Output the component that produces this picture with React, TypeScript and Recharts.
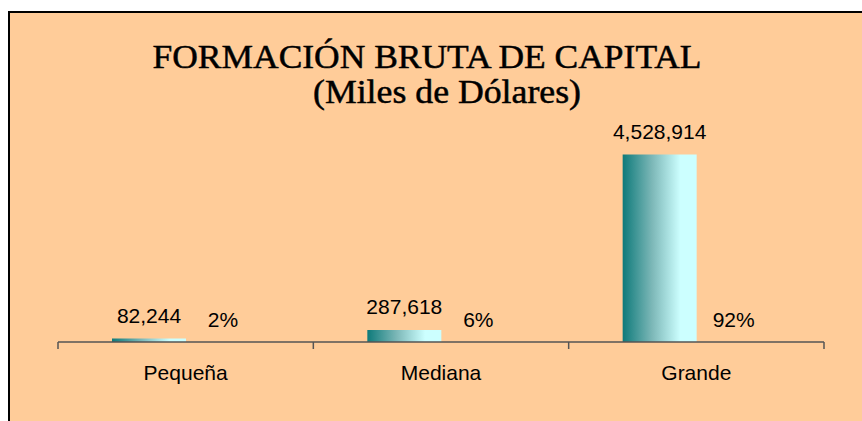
import React from 'react';
import { BarChart, Bar, XAxis, YAxis, LabelList } from 'recharts';

// values
const categories = ['Pequeña', 'Mediana', 'Grande'];
const amounts = [82244, 287618, 4528914];
const shares = [2, 6, 92];

const data = categories.map((name, i) => ({ name, amount: amounts[i], share: shares[i] }));

const CHART_W = 852;
const CHART_H = 408;
const MARGIN = { top: 122, right: 38, bottom: 29, left: 48 };
const PLOT_W = CHART_W - MARGIN.left - MARGIN.right;
const BAND = PLOT_W / categories.length;
const TICK_SIZE = 7;
const TICK_MARGIN = 16;

const sans = '"Liberation Sans", Arial, sans-serif';
const serif = '"Liberation Serif", "Times New Roman", serif';
const axisColor = '#555555';

// category label plus the boundary ticks Excel draws between categories
function CategoryTick(props: any) {
  const { x, y, payload, index } = props;
  const lineTop = y - TICK_MARGIN - TICK_SIZE;
  const lineBottom = y - TICK_MARGIN;
  const left = x - BAND / 2;
  const right = x + BAND / 2;
  return (
    <g>
      <line x1={left} x2={left} y1={lineTop} y2={lineBottom} stroke={axisColor} strokeWidth={1.5} />
      {index === categories.length - 1 && (
        <line x1={right} x2={right} y1={lineTop} y2={lineBottom} stroke={axisColor} strokeWidth={1.5} />
      )}
      <text x={x} y={y} dy="0.71em" textAnchor="middle" fill="#000" fontFamily={sans} fontSize={21}>
        {payload.value}
      </text>
    </g>
  );
}

export default function App() {
  return (
    <div
      style={{
        position: 'fixed',
        left: 8,
        top: 11,
        width: 854,
        height: 410,
        boxSizing: 'border-box',
        background: '#FFCC99',
        borderTop: '2px solid #000',
        borderLeft: '2px solid #000',
      }}
    >
      <BarChart width={CHART_W} height={CHART_H} data={data} margin={MARGIN} barGap={0} barCategoryGap={54}>
        <defs>
          <linearGradient id="tealFill" x1="0" y1="0" x2="1" y2="0">
            <stop offset="0%" stopColor="#0E7A7A" />
            <stop offset="40%" stopColor="#7DB8B8" />
            <stop offset="78%" stopColor="#CCFFFF" />
            <stop offset="100%" stopColor="#CCFFFF" />
          </linearGradient>
        </defs>
        <XAxis
          dataKey="name"
          height={50}
          axisLine={{ stroke: axisColor, strokeWidth: 1.5 }}
          tickLine={false}
          tickSize={TICK_SIZE}
          tickMargin={TICK_MARGIN}
          tick={<CategoryTick />}
          interval={0}
        />
        <YAxis yAxisId="amount" hide domain={[0, 5000000]} />
        <YAxis yAxisId="share" hide domain={[0, 100000]} />
        <Bar yAxisId="amount" dataKey="amount" fill="url(#tealFill)" isAnimationActive={false}>
          <LabelList
            dataKey="amount"
            position="top"
            offset={16}
            fill="#000"
            fontFamily={sans}
            fontSize={21}
            formatter={(v: any) => Number(v).toLocaleString('en-US')}
          />
        </Bar>
        <Bar yAxisId="share" dataKey="share" fill="none" isAnimationActive={false}>
          <LabelList
            dataKey="share"
            position="top"
            offset={15}
            fill="#000"
            fontFamily={sans}
            fontSize={21}
            formatter={(v: any) => `${v}%`}
          />
        </Bar>
      </BarChart>
      <svg width={CHART_W} height={120} style={{ position: 'absolute', left: 0, top: 0, pointerEvents: 'none' }}>
        <text
          x={417}
          y={55}
          textAnchor="middle"
          fontFamily={serif}
          fontSize={34}
          fill="#000"
          stroke="#000"
          strokeWidth={0.5}
          textLength={549}
          lengthAdjust="spacingAndGlyphs"
        >
          FORMACIÓN BRUTA DE CAPITAL
        </text>
        <text
          x={437}
          y={90}
          textAnchor="middle"
          fontFamily={serif}
          fontSize={34}
          fill="#000"
          stroke="#000"
          strokeWidth={0.5}
          textLength={268}
          lengthAdjust="spacingAndGlyphs"
        >
          (Miles de Dólares)
        </text>
      </svg>
    </div>
  );
}
